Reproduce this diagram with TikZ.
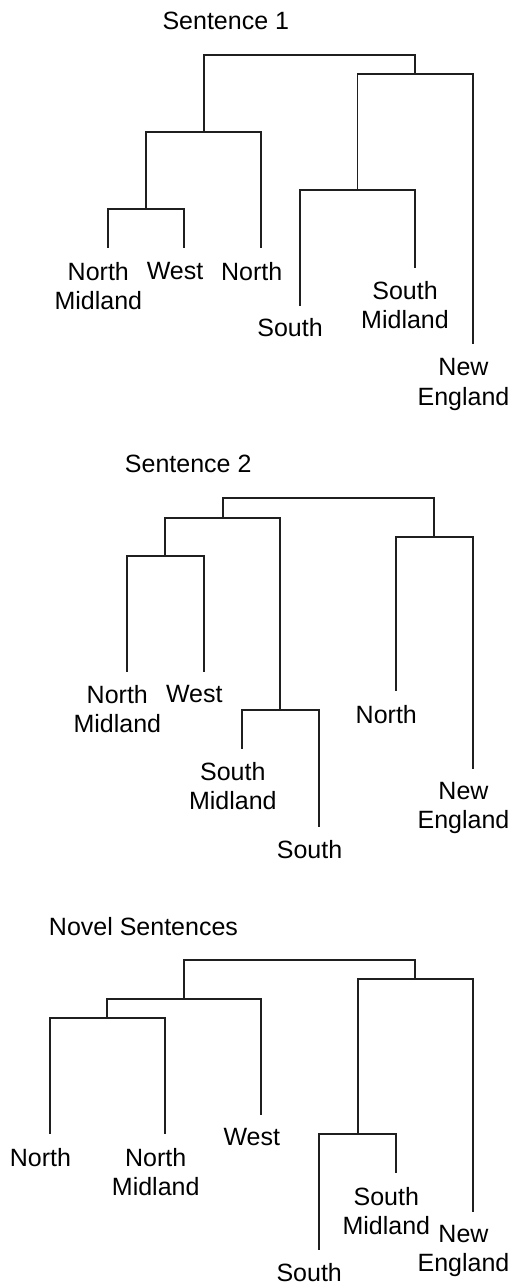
\documentclass[tikz,border=0pt]{standalone}
\usepackage{fontspec}
\setmainfont{Liberation Sans}
\begin{document}
\begin{tikzpicture}[x=1pt, y=-1pt,
  link/.style={line width=1.7pt, draw=black!88, line join=miter},
  lbl/.style={anchor=north, inner sep=0pt, align=center,
              font=\fontsize{25}{29.3}\selectfont},
  ttl/.style={lbl}]
\useasboundingbox (0,0) rectangle (513,1288);

% ---------------- Sentence 1 ----------------
\node[ttl] (t1) at (225.8,12) {Sentence 1};
\coordinate (r1) at (309.5,55.3);
\coordinate (a1) at (204,132.3);
\coordinate (b1) at (415.2,74.3);
\coordinate (c1) at (146,209.3);
\coordinate (d1) at (357.5,190);
\coordinate (nm1) at (107.7,248.3);
\coordinate (w1)  at (184.3,248.3);
\coordinate (n1)  at (261.3,248.3);
\coordinate (s1)  at (299.7,306);
\coordinate (sm1) at (415.3,267.7);
\coordinate (ne1) at (472.7,344.3);
\foreach \p/\c in {r1/a1, r1/b1, a1/c1, a1/n1, c1/nm1, c1/w1,
                   b1/d1, b1/ne1, d1/s1, d1/sm1}
  \draw[link] (\p) -| (\c);
\node[lbl] (lnm1) at (98.3,261.7) {North\\Midland};
\node[lbl] (lw1)  at (175,261.7) {West};
\node[lbl] (ln1)  at (251.7,261.7) {North};
\node[lbl] (ls1)  at (290,318.3) {South};
\node[lbl] (lsm1) at (405,281) {South\\Midland};
\node[lbl] (lne1) at (463.5,358.3) {New\\England};

% ---------------- Sentence 2 ----------------
\node[ttl] (t2) at (188.2,455) {Sentence 2};
\coordinate (r2) at (328.5,498.3);
\coordinate (a2) at (222.7,517.7);
\coordinate (b2) at (434.3,536.7);
\coordinate (c2) at (165.3,556);
\coordinate (d2) at (280.3,710);
\coordinate (nm2) at (126.7,672.3);
\coordinate (w2)  at (203.7,672.3);
\coordinate (sm2) at (242,749);
\coordinate (s2)  at (319,826.7);
\coordinate (n2)  at (396,691);
\coordinate (ne2) at (472.7,769);
\foreach \p/\c in {r2/a2, r2/b2, a2/c2, a2/d2, c2/nm2, c2/w2,
                   d2/sm2, d2/s2, b2/n2, b2/ne2}
  \draw[link] (\p) -| (\c);
\node[lbl] (lnm2) at (117.3,685) {North\\Midland};
\node[lbl] (lw2)  at (194.3,685) {West};
\node[lbl] (lsm2) at (232.8,762.3) {South\\Midland};
\node[lbl] (ls2)  at (309.5,840) {South};
\node[lbl] (ln2)  at (386.3,705) {North};
\node[lbl] (lne2) at (463.5,781.7) {New\\England};

% ---------------- Novel Sentences ----------------
\node[ttl] (t3) at (143.5,916.7) {Novel Sentences};
\coordinate (r3) at (299.8,960);
\coordinate (a3) at (184.3,999);
\coordinate (b3) at (415.3,979.3);
\coordinate (c3) at (107.3,1018.3);
\coordinate (d3) at (357.7,1134);
\coordinate (n3)  at (50,1134.3);
\coordinate (nm3) at (165,1134.3);
\coordinate (w3)  at (261.3,1115);
\coordinate (s3)  at (319,1250);
\coordinate (sm3) at (396,1173.3);
\coordinate (ne3) at (472.7,1211.7);
\foreach \p/\c in {r3/a3, r3/b3, a3/c3, a3/w3, c3/n3, c3/nm3,
                   b3/d3, b3/ne3, d3/s3, d3/sm3}
  \draw[link] (\p) -| (\c);
\node[lbl] (ln3)  at (40.5,1148.3) {North};
\node[lbl] (lnm3) at (155.7,1148.3) {North\\Midland};
\node[lbl] (lw3)  at (251.8,1128.3) {West};
\node[lbl] (lsm3) at (386.3,1186.7) {South\\Midland};
\node[lbl] (lne3) at (463.5,1225) {New\\England};
\node[lbl] (ls3)  at (309.2,1263.3) {South};
\end{tikzpicture}
\end{document}
